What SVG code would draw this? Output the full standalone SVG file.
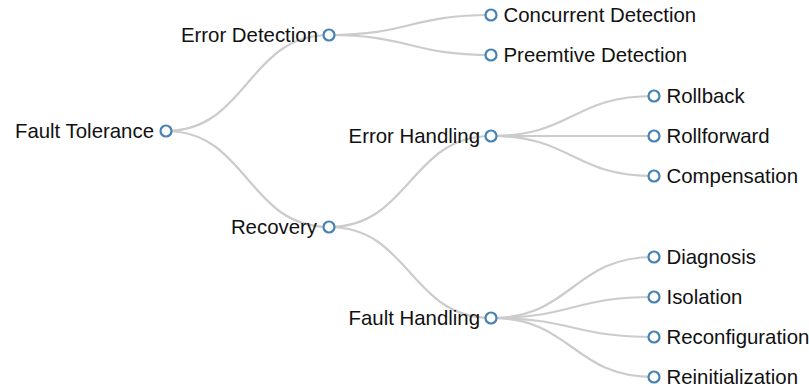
<svg xmlns="http://www.w3.org/2000/svg" width="809" height="387" viewBox="0 0 809 387">
  <style>
    .link { fill: none; stroke: #cccccc; stroke-width: 2.2; }
    .node circle { fill: #ffffff; stroke: #4682b4; stroke-width: 2.2; }
    .node text { font-family: "Liberation Sans", Arial, Helvetica, sans-serif; font-size: 20.4px; fill: #111111; }
    .end { text-anchor: end; }
  </style>
  <rect width="809" height="387" fill="#ffffff"/>
  <g id="links">
    <path class="link" d="M166,131 C247.5,131 247.5,35 329,35"/>
    <path class="link" d="M166,131 C247.5,131 247.5,227 329,227"/>
    <path class="link" d="M329,35 C410,35 410,15 491,15"/>
    <path class="link" d="M329,35 C410,35 410,55 491,55"/>
    <path class="link" d="M329,227 C410,227 410,136 491,136"/>
    <path class="link" d="M329,227 C410,227 410,318 491,318"/>
    <path class="link" d="M491,136 C572.5,136 572.5,96 654,96"/>
    <path class="link" d="M491,136 C572.5,136 572.5,136 654,136"/>
    <path class="link" d="M491,136 C572.5,136 572.5,176 654,176"/>
    <path class="link" d="M491,318 C572.5,318 572.5,257 654,257"/>
    <path class="link" d="M491,318 C572.5,318 572.5,297 654,297"/>
    <path class="link" d="M491,318 C572.5,318 572.5,337 654,337"/>
    <path class="link" d="M491,318 C572.5,318 572.5,377 654,377"/>
  </g>
  <g id="fault-tolerance" class="node"><circle cx="166" cy="131" r="5.5"/><text class="end" x="154" y="138">Fault Tolerance</text></g>
  <g id="error-detection" class="node"><circle cx="329" cy="35" r="5.5"/><text class="end" x="318" y="42">Error Detection</text></g>
  <g id="recovery" class="node"><circle cx="329" cy="227" r="5.5"/><text class="end" x="317" y="234">Recovery</text></g>
  <g id="concurrent-detection" class="node"><circle cx="491" cy="15" r="5.5"/><text x="503.5" y="22">Concurrent Detection</text></g>
  <g id="preemtive-detection" class="node"><circle cx="491" cy="55" r="5.5"/><text x="503.5" y="62">Preemtive Detection</text></g>
  <g id="error-handling" class="node"><circle cx="491" cy="136" r="5.5"/><text class="end" x="480" y="143">Error Handling</text></g>
  <g id="fault-handling" class="node"><circle cx="491" cy="318" r="5.5"/><text class="end" x="480" y="325">Fault Handling</text></g>
  <g id="rollback" class="node"><circle cx="654" cy="96" r="5.5"/><text x="666.5" y="103">Rollback</text></g>
  <g id="rollforward" class="node"><circle cx="654" cy="136" r="5.5"/><text x="666.5" y="143">Rollforward</text></g>
  <g id="compensation" class="node"><circle cx="654" cy="176" r="5.5"/><text x="666.5" y="183">Compensation</text></g>
  <g id="diagnosis" class="node"><circle cx="654" cy="257" r="5.5"/><text x="666.5" y="264">Diagnosis</text></g>
  <g id="isolation" class="node"><circle cx="654" cy="297" r="5.5"/><text x="666.5" y="304">Isolation</text></g>
  <g id="reconfiguration" class="node"><circle cx="654" cy="337" r="5.5"/><text x="666.5" y="344">Reconfiguration</text></g>
  <g id="reinitialization" class="node"><circle cx="654" cy="377" r="5.5"/><text x="666.5" y="384">Reinitialization</text></g>
</svg>
